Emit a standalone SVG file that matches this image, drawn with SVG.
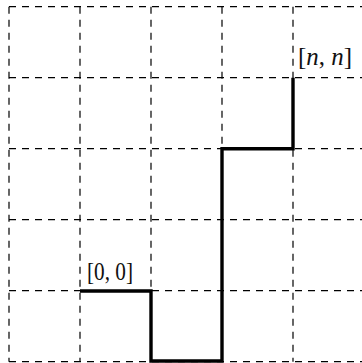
<svg xmlns="http://www.w3.org/2000/svg" width="362" height="363" viewBox="0 0 362 363">
<style>
.grid line{stroke:#000;stroke-width:1.2;stroke-dasharray:7 6;fill:none}
.lbl{font-family:"Liberation Serif","Times New Roman",serif;font-size:26px;fill:#111}
.path{stroke:#000;stroke-width:3.4;fill:none;stroke-linejoin:miter}
</style>
<rect width="362" height="363" fill="#fff"/>
<g id="grid" class="grid">
<line x1="9" y1="6.7" x2="364" y2="6.7"/>
<line x1="9" y1="77.7" x2="364" y2="77.7"/>
<line x1="9" y1="148.7" x2="364" y2="148.7"/>
<line x1="9" y1="219.7" x2="364" y2="219.7"/>
<line x1="9" y1="290.7" x2="364" y2="290.7"/>
<line x1="9" y1="361.7" x2="364" y2="361.7"/>
<line x1="9" y1="6.7" x2="9" y2="361.7"/>
<line x1="80" y1="6.7" x2="80" y2="361.7"/>
<line x1="151" y1="6.7" x2="151" y2="361.7"/>
<line x1="222" y1="6.7" x2="222" y2="361.7"/>
<line x1="293" y1="6.7" x2="293" y2="361.7"/>
</g>
<g id="connectors">
<path class="path" d="M80 291 H151 V361 H222 V148.7 H293 V77.7"/>
</g>
<g id="start">
<text class="lbl" x="87" y="280" textLength="46" lengthAdjust="spacingAndGlyphs">[0, 0]</text>
</g>
<g id="end">
<text class="lbl" x="298" y="65" textLength="54" lengthAdjust="spacingAndGlyphs">[<tspan font-style="italic">n</tspan>, <tspan font-style="italic">n</tspan>]</text>
</g>
</svg>
